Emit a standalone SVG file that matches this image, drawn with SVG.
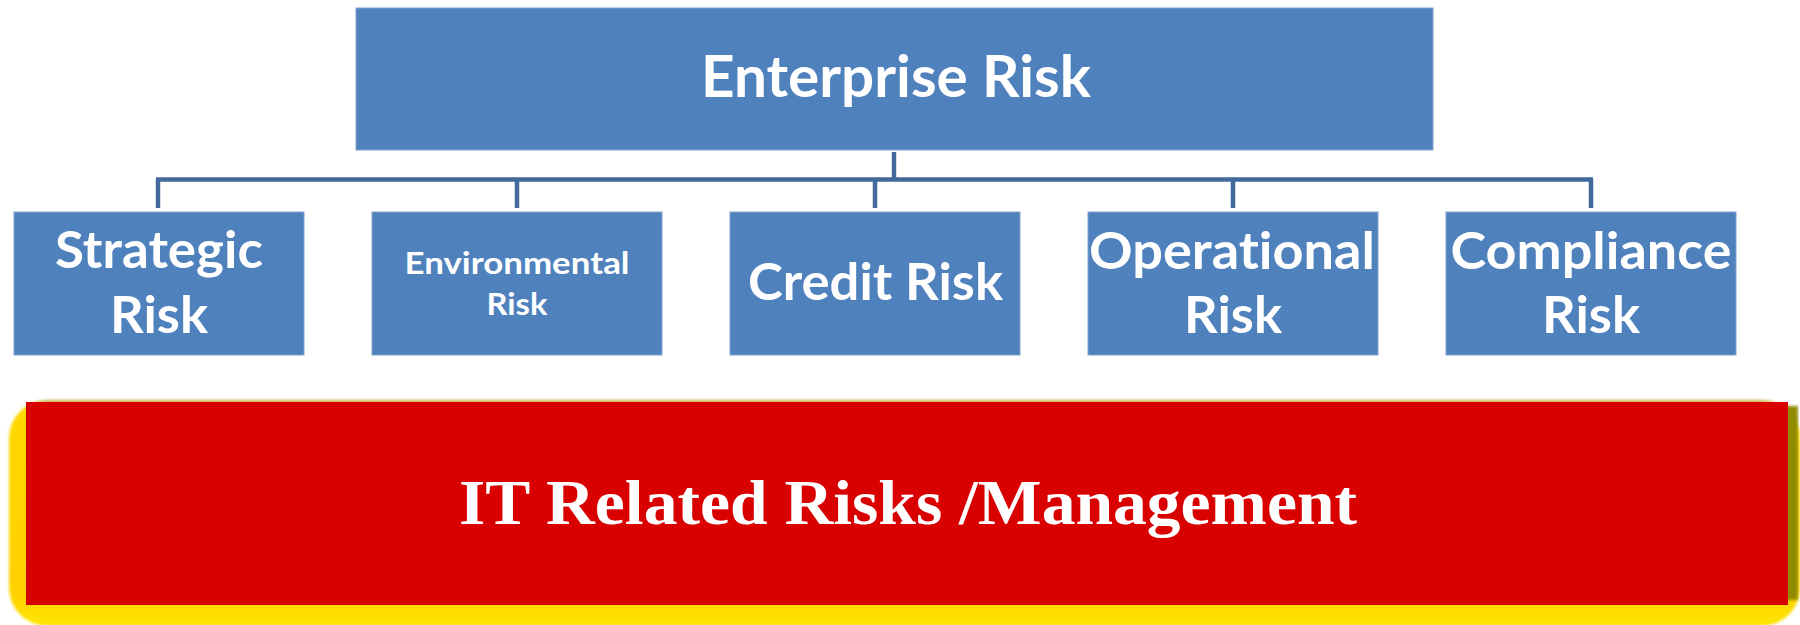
<svg xmlns="http://www.w3.org/2000/svg" width="1800" height="625" viewBox="0 0 1800 625">
  <defs>
    <style>
      .box { fill: #4f81bd; stroke: #7ea3d3; stroke-width: 1; }
      .lbl { font-family: Lato, "Open Sans", "Liberation Sans", sans-serif; font-weight: bold; fill: #ffffff; text-anchor: middle; font-variant-ligatures: none; }
      .big { font-size: 51px; }
      .small { font-size: 31px; }
      .conn { stroke: #41699c; stroke-width: 4.5; fill: none; }
      .it { font-family: "Liberation Serif", "DejaVu Serif", serif; font-weight: bold; font-size: 64px; fill: #ffffff; text-anchor: middle; }
    </style>
    <linearGradient id="glow" x1="0" y1="0" x2="0" y2="1">
      <stop offset="0" stop-color="#b8a860"/>
      <stop offset="0.03" stop-color="#ffd800"/>
      <stop offset="0.85" stop-color="#ffd000"/>
      <stop offset="1" stop-color="#ffe600"/>
    </linearGradient>
    <filter id="soft" x="-5%" y="-5%" width="110%" height="110%">
      <feGaussianBlur stdDeviation="1.5"/>
    </filter>
  </defs>
  <rect width="1800" height="625" fill="#ffffff"/>

  <g id="connectors">
    <line class="conn" x1="894" y1="152" x2="894" y2="180"/>
    <line class="conn" x1="156" y1="179.5" x2="1593" y2="179.5"/>
    <line class="conn" x1="158" y1="179" x2="158" y2="208"/>
    <line class="conn" x1="517" y1="179" x2="517" y2="208"/>
    <line class="conn" x1="875" y1="179" x2="875" y2="208"/>
    <line class="conn" x1="1233" y1="179" x2="1233" y2="208"/>
    <line class="conn" x1="1591" y1="179" x2="1591" y2="208"/>
  </g>

  <g id="enterprise">
    <rect class="box" x="356" y="8" width="1077" height="142"/>
    <text class="lbl" x="896" y="97" font-size="57" textLength="390" lengthAdjust="spacingAndGlyphs">Enterprise Risk</text>
  </g>

  <g id="strategic">
    <rect class="box" x="14" y="212" width="290" height="143"/>
    <text class="lbl big" x="159" y="268" textLength="208" lengthAdjust="spacingAndGlyphs">Strategic</text>
    <text class="lbl big" x="159" y="333" textLength="98" lengthAdjust="spacingAndGlyphs">Risk</text>
  </g>

  <g id="environmental">
    <rect class="box" x="372" y="212" width="290" height="143"/>
    <text class="lbl small" x="517" y="274" textLength="225" lengthAdjust="spacingAndGlyphs">Environmental</text>
    <text class="lbl small" x="517" y="315" textLength="61" lengthAdjust="spacingAndGlyphs">Risk</text>
  </g>

  <g id="credit">
    <rect class="box" x="730" y="212" width="290" height="143"/>
    <text class="lbl big" x="875.5" y="300" textLength="255" lengthAdjust="spacingAndGlyphs">Credit Risk</text>
  </g>

  <g id="operational">
    <rect class="box" x="1088" y="212" width="290" height="143"/>
    <text class="lbl big" x="1232" y="269" textLength="286" lengthAdjust="spacingAndGlyphs">Operational</text>
    <text class="lbl big" x="1233" y="333" textLength="98" lengthAdjust="spacingAndGlyphs">Risk</text>
  </g>

  <g id="compliance">
    <rect class="box" x="1446" y="212" width="290" height="143"/>
    <text class="lbl big" x="1591" y="269" textLength="281" lengthAdjust="spacingAndGlyphs">Compliance</text>
    <text class="lbl big" x="1591" y="333" textLength="98" lengthAdjust="spacingAndGlyphs">Risk</text>
  </g>

  <g id="it-risks">
    <rect x="9" y="400" width="1791" height="226" rx="38" fill="url(#glow)" filter="url(#soft)"/>
    <rect x="1786" y="406" width="12" height="194" fill="#8f8a00" filter="url(#soft)"/>
    <rect x="26" y="402" width="1762" height="203" fill="#d90000"/>
    <text class="it" x="908" y="524" textLength="898" lengthAdjust="spacingAndGlyphs">IT Related Risks /Management</text>
  </g>
</svg>
